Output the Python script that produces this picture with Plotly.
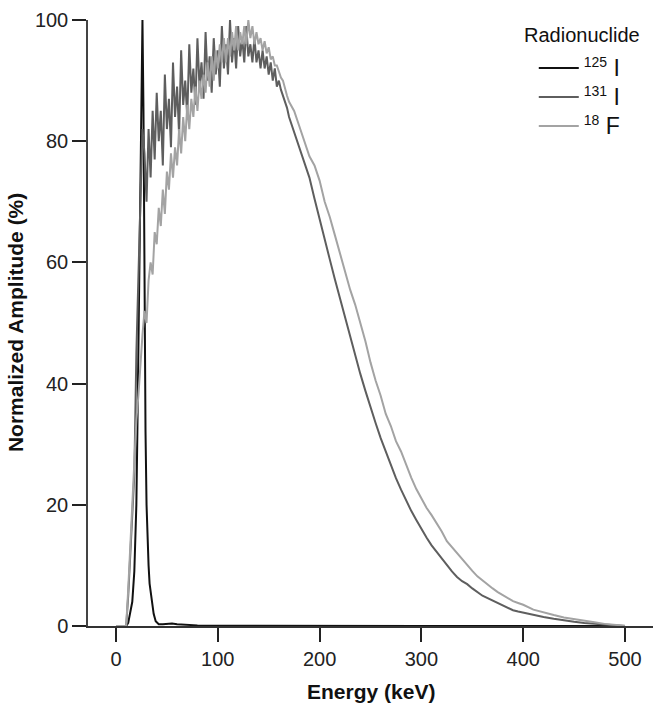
import plotly.graph_objects as go

# ---- Data ----
energy_125I = [0, 10, 12, 14, 16, 18, 19, 20, 21, 22, 23, 24, 25, 26, 27, 28, 29, 30, 31, 32, 33, 35, 37, 39,
               42, 46, 50, 55, 60, 70, 80, 100, 150, 200, 300, 400, 500]
amp_125I = [0, 0, 0.5, 2, 4, 9, 14, 20, 32, 45, 62, 70, 86, 100, 85, 55, 32, 20, 14, 10, 7, 4, 2, 0.8,
            0.3, 0.3, 0.35, 0.4, 0.3, 0.2, 0.1, 0.05, 0.02, 0, 0, 0, 0]

energy_131I = [0, 10, 12, 14, 16, 18, 20, 22, 24, 26, 28, 30, 32, 34, 36, 38, 40, 42, 44, 46, 48, 50, 52, 54,
               56, 58, 60, 62, 64, 66, 68, 70, 72, 74, 76, 78, 80, 82, 84, 86, 88, 90, 92, 94, 96, 98, 100,
               102, 104, 106, 108, 110, 112, 114, 116, 118, 120, 122, 124, 126, 128, 130, 132, 134, 136,
               138, 140, 142, 144, 146, 148, 150, 152, 154, 156, 158, 160, 162, 164, 166, 168, 170,
               175, 180, 185, 190, 195, 200, 205, 210, 215, 220, 225, 230, 235, 240, 245, 250, 255, 260,
               265, 270, 275, 280, 285, 290, 295, 300, 305, 310, 315, 320, 325, 330, 335, 340, 345, 350,
               360, 370, 375, 380, 385, 390, 395, 400, 410, 420, 430, 440, 450, 460, 470, 480, 490, 500]
amp_131I = [0, 0, 5, 12, 18, 25, 45, 60, 70, 82, 78, 70, 82, 74, 85, 77, 88, 80, 85, 76, 91, 82, 87, 79,
            93, 84, 89, 81, 95, 86, 90, 84, 96, 88, 92, 86, 97, 89, 93, 87, 98, 90, 94, 88, 97, 91, 95,
            89, 99, 92, 96, 91, 100, 93, 97, 92, 99, 94, 97, 93, 99, 94, 96, 93, 97,
            93, 95, 92, 95, 92, 94, 91, 93, 90, 92, 89, 90, 88.5, 87.5, 86.5, 85.5, 84,
            81.5, 79, 76.5, 74, 70.5, 67, 63.6, 60.5, 57.2, 54, 51, 48, 44.8, 41.6, 38.8, 36, 33.5, 31,
            28.8, 26.4, 24.4, 22.5, 20.7, 19, 17.5, 16, 14.6, 13.3, 12.2, 11.1, 10, 9, 8.1, 7.4, 6.9, 6.2,
            5.0, 4.2, 3.7, 3.3, 2.9, 2.6, 2.4, 2.2, 1.9, 1.5, 1.2, 0.9, 0.7, 0.5, 0.35, 0.2, 0.1, 0]

energy_18F = [0, 10, 12, 14, 16, 18, 20, 22, 24, 26, 28, 30, 32, 34, 36, 38, 40, 42, 44, 46, 48, 50, 52, 54,
              56, 58, 60, 62, 64, 66, 68, 70, 72, 74, 76, 78, 80, 82, 84, 86, 88, 90, 92, 94, 96, 98, 100,
              102, 104, 106, 108, 110, 112, 114, 116, 118, 120, 122, 124, 126, 128, 130, 132, 134, 136,
              138, 140, 142, 144, 146, 148, 150, 152, 154, 156, 158, 160, 162, 164, 166, 168, 170,
              175, 180, 185, 190, 195, 200, 205, 210, 215, 220, 225, 230, 235, 240, 245, 250, 255, 260,
              265, 270, 275, 280, 285, 290, 295, 300, 305, 310, 315, 320, 325, 330, 335, 340, 345, 350,
              355, 360, 365, 370, 375, 380, 385, 390, 395, 400, 410, 420, 430, 440, 450, 460, 470, 480,
              490, 500]
amp_18F = [0, 0, 6, 13, 22, 28, 34, 38, 44, 48, 52, 50, 57, 60, 58, 65, 63, 69, 66, 72, 68, 75, 72, 78,
           74, 79, 76, 82, 78, 84, 80, 86, 82, 87, 84, 89, 85, 90, 87, 91, 88, 93, 89, 94, 90, 95, 92,
           96, 93, 97, 93, 97, 94, 98, 95, 99, 95, 98, 96, 99, 96, 100, 97, 99, 96,
           98, 96, 97, 95, 96.5, 94.5, 95.5, 93.5, 94, 92.5, 92.5, 91.5, 90.5, 90, 88.5, 87.5, 86.5,
           85, 82.5, 80, 77.5, 76, 73.5, 70, 67.5, 64.5, 61.5, 58.5, 55.5, 53, 50, 47, 43.5, 40.5, 38,
           35, 33, 30.5, 28.8, 26.5, 24.5, 22.6, 21, 19.5, 18.3, 17, 15.6, 14, 13, 12.1, 11, 10, 9.1,
           8.2, 7.5, 6.8, 6.2, 5.6, 5.1, 4.6, 4.1, 3.8, 3.5, 2.7, 2.2, 1.8, 1.4, 1.1, 0.8, 0.6, 0.35,
           0.2, 0.05]

x_ticks = [0, 100, 200, 300, 400, 500]
y_ticks = [0, 20, 40, 60, 80, 100]

series = [
    ("<sup><span style='font-size:14px'>125</span></sup><span style='font-size:23px'> I</span>",
     energy_125I, amp_125I, "#111111", 2),
    ("<sup><span style='font-size:14px'>131</span></sup><span style='font-size:23px'> I</span>",
     energy_131I, amp_131I, "#5e5e5e", 2),
    ("<sup><span style='font-size:14px'>18</span></sup><span style='font-size:23px'> F</span>",
     energy_18F, amp_18F, "#a3a3a3", 2),
]

FONT = "Liberation Sans, Arial, sans-serif"

fig = go.Figure()
for name, xs, ys, color, w in series:
    fig.add_trace(go.Scatter(x=xs, y=ys, mode="lines", name=name,
                             line=dict(color=color, width=w)))

fig.update_layout(
    width=662, height=708,
    margin=dict(l=88, r=9, t=14, b=82),
    paper_bgcolor="white", plot_bgcolor="white",
    font=dict(family=FONT, color="#222222"),
    showlegend=True,
    legend=dict(
        x=0.789, y=0.953, xanchor="left", yanchor="top",
        bgcolor="rgba(0,0,0,0)",
        font=dict(size=20, family=FONT, color="#111111"),
        itemwidth=40,
        tracegroupgap=0,
    ),
    annotations=[
        dict(text="Radionuclide", xref="paper", yref="paper", x=(522 - 88) / 565, y=(626 - 29) / 612,
             xanchor="left", yanchor="middle", showarrow=False,
             font=dict(size=20, family=FONT, color="#111111")),
        dict(text="Energy (keV)", xref="paper", yref="paper", x=0.5, y=-0.108,
             xanchor="center", yanchor="middle", showarrow=False,
             font=dict(size=21, family=FONT, color="#111111", weight="bold")),
        dict(text="Normalized Amplitude (%)", xref="paper", yref="paper", x=-0.129, y=0.5,
             xanchor="center", yanchor="middle", textangle=-90, showarrow=False,
             font=dict(size=21, family=FONT, color="#111111", weight="bold")),
    ],
)

fig.update_xaxes(range=[-27.5, 527.5], tickvals=x_ticks, ticktext=[str(v) for v in x_ticks],
                 showgrid=False, zeroline=False, showline=True, linecolor="#333333", linewidth=1.5,
                 ticks="outside", ticklen=14, tickwidth=1.5, tickcolor="#222222",
                 tickfont=dict(size=20, family=FONT, color="#222222"))
fig.update_yaxes(range=[0, 100], tickvals=y_ticks, ticktext=[str(v) for v in y_ticks],
                 showgrid=False, zeroline=False, showline=True, linecolor="#444444", linewidth=1.5,
                 ticks="outside", ticklen=14, tickwidth=1.5, tickcolor="#222222",
                 tickfont=dict(size=20, family=FONT, color="#222222"))

fig.write_html("out.html", config={"displayModeBar": False},
               post_script="document.body.style.margin='0';document.body.style.padding='0';")
